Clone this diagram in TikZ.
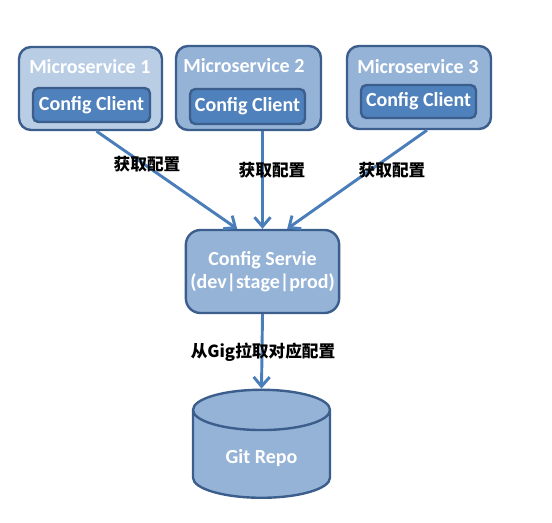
\documentclass[tikz,border=0pt]{standalone}
\usepackage{fontspec}
\setmainfont{Carlito}
\newfontfamily\cjk{Noto Sans CJK SC}
\usetikzlibrary{arrows.meta, positioning, calc, shapes.geometric}
\definecolor{msfill}{HTML}{B9CDE5}
\definecolor{boxfill}{HTML}{95B3D7}
\definecolor{clientfill}{HTML}{4F81BD}
\definecolor{boxline}{HTML}{3B5E8C}
\definecolor{arrowline}{HTML}{4A7EBB}
\tikzset{
  msbox/.style     = {rectangle, rounded corners=9pt, draw=boxline, line width=1.8pt,
                      fill=boxfill},
  clientbox/.style = {rectangle, rounded corners=4pt, draw=boxline, line width=1.8pt,
                      fill=clientfill, text=white, font=\bfseries\fontsize{15}{17}\selectfont},
  title/.style     = {anchor=west, text=white, inner sep=0pt,
                      font=\bfseries\fontsize{15}{17}\selectfont},
  repo/.style      = {cylinder, shape border rotate=90, aspect=0.5, draw=boxline,
                      line width=1.8pt, fill=boxfill, text=white,
                      font=\bfseries\fontsize{15}{17}\selectfont},
  arrow/.style     = {-{Straight Barb[length=7pt,width=12pt]}, line width=2.2pt, arrowline},
  cnlabel/.style   = {font=\cjk\bfseries\fontsize{12.5}{14}\selectfont, inner sep=1pt},
}

\begin{document}
\begin{tikzpicture}[x=0.75pt, y=-0.75pt]
  \useasboundingbox (0,0) rectangle (552,522);

  % ---- microservices ----
  \node[msbox, fill=msfill, minimum width=107.25pt, minimum height=62.25pt] (ms1) at (90.5,88.5) {};
  \node[msbox, minimum width=108.75pt, minimum height=63pt]   (ms2) at (248.5,88) {};
  \node[msbox, minimum width=108pt, minimum height=62.25pt]   (ms3) at (419,87.5) {};

  \node[title] (t1) at (29,67)  {Microservice 1};
  \node[title] (t2) at (183,66) {Microservice 2};
  \node[title] (t3) at (357,67) {Microservice 3};

  \node[clientbox, minimum width=87.75pt, minimum height=25.5pt]  (cc1) at (91.5,105)   {Config Client};
  \node[clientbox, minimum width=86.25pt, minimum height=26.25pt] (cc2) at (247.5,106.5) {Config Client};
  \node[clientbox, minimum width=86.25pt, minimum height=24.75pt] (cc3) at (418.5,101.5) {Config Client};

  % ---- config server ----
  \node[msbox, rounded corners=11pt, minimum width=113.25pt, minimum height=62.25pt,
        text=white, align=center, font=\bfseries\fontsize{15}{17}\selectfont]
        (cs) at (262.5,271.5) {Config Servie\\(dev|stage|prod)};

  % ---- repository ----
  \node[repo, minimum width=102.75pt, minimum height=81pt] (git) at (261.5,458) {Git Repo};

  % arrows
  \draw[arrow] ([xshift=4.5pt]ms1.south) -- ([xshift=-19pt]cs.north);
  \draw[arrow] (cs.north |- ms2.south) -- (cs.north);
  \draw[arrow] ([xshift=6pt]ms3.south) -- ([xshift=18.5pt]cs.north);
  \draw[arrow] (cs.south) -- (git.north);

  % labels
  \node[cnlabel] (l1) at (147,164) {获取配置};
  \node[cnlabel] (l2) at (272,170) {获取配置};
  \node[cnlabel] (l3) at (392,170) {获取配置};
  \node[cnlabel] (l4) at (263,352) {从Gig拉取对应配置};
\end{tikzpicture}
\end{document}
